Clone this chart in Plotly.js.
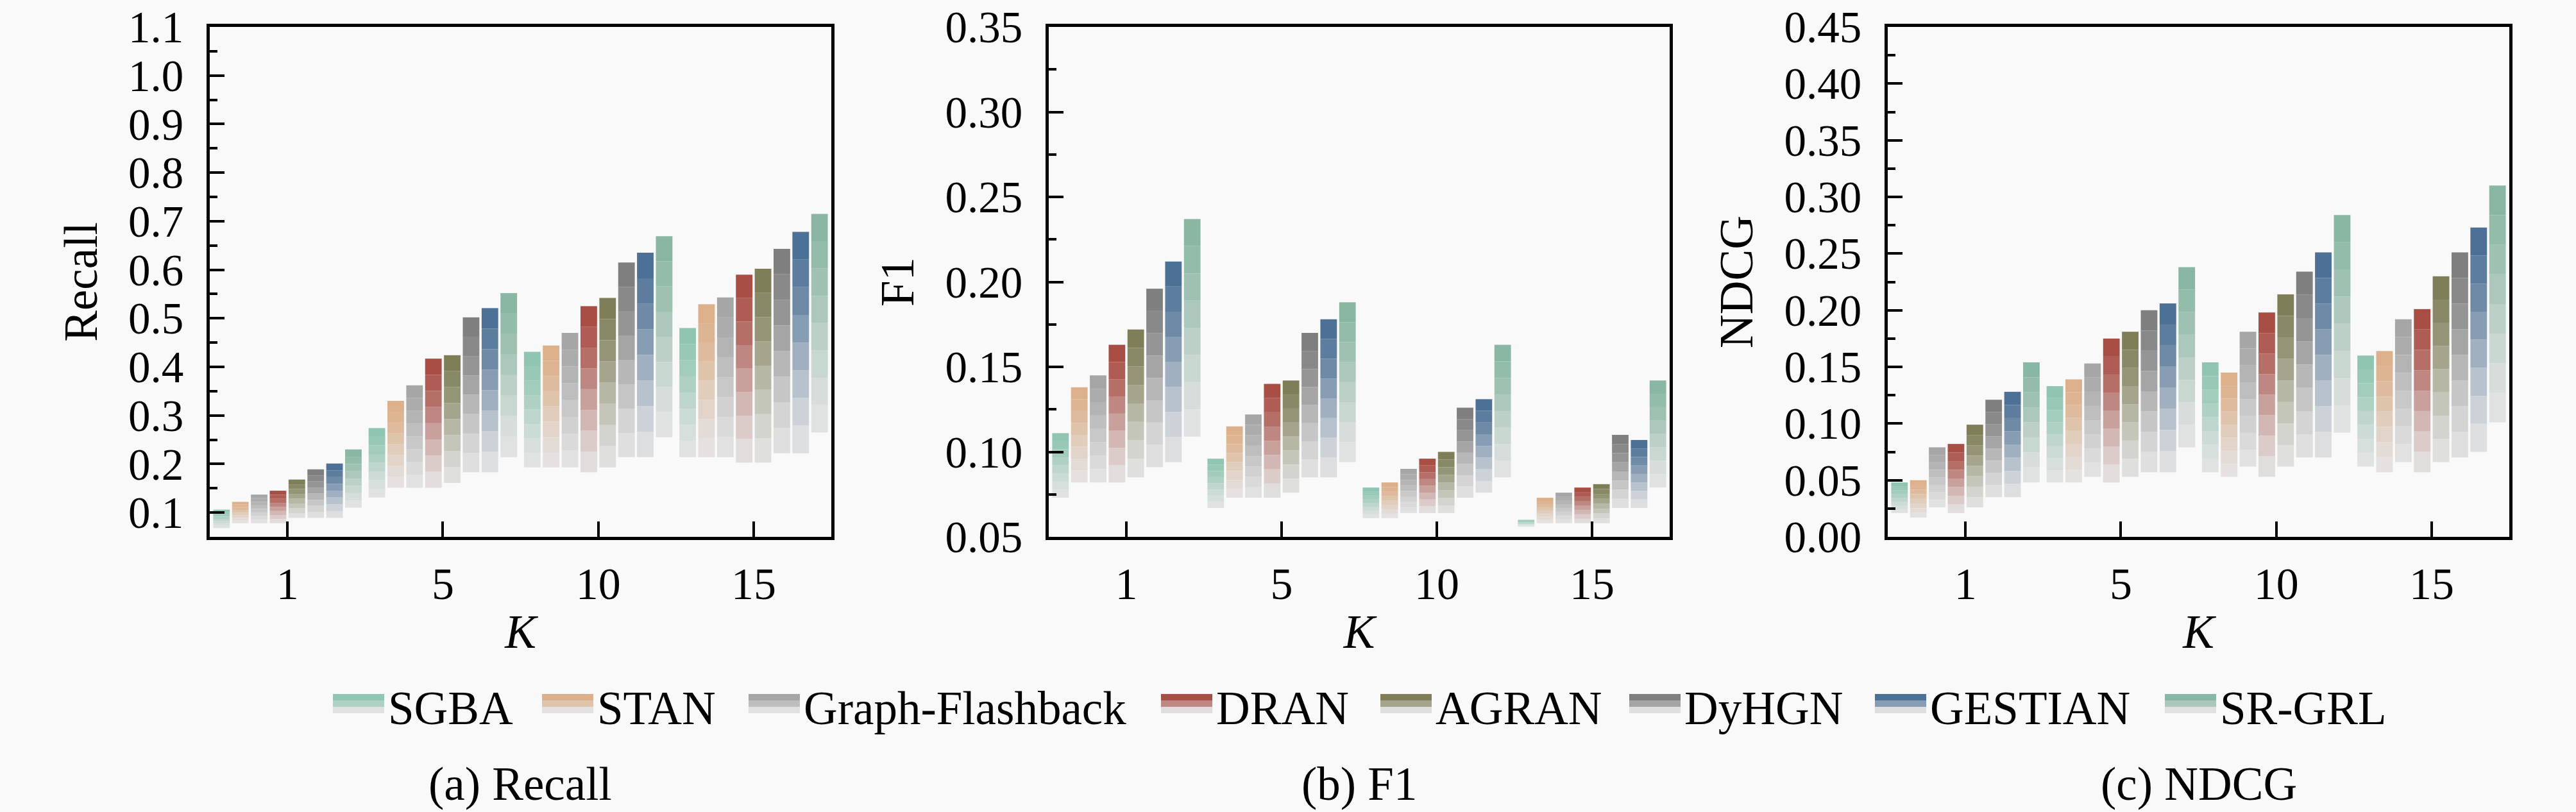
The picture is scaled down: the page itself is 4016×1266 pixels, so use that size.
<!DOCTYPE html>
<html>
<head>
<meta charset="utf-8">
<script src="https://cdn.plot.ly/plotly-3.0.1.min.js"></script>
<style>
  html, body { margin: 0; padding: 0; background: #f9f9f9; }
  #chart { width: 4016px; height: 1266px; }
</style>
</head>
<body>
<div id="chart"></div>
<script>
// Data

const kLabels = ["1", "5", "10", "15"];
const methods = ["SGBA", "STAN", "Graph-Flashback", "DRAN", "AGRAN", "DyHGN", "GESTIAN", "SR-GRL"];

// one row per method, one value per K (top of bar / faded low end of bar)
const recallTop = [
  [0.106, 0.274, 0.431, 0.480],
  [0.122, 0.330, 0.444, 0.529],
  [0.137, 0.362, 0.470, 0.543],
  [0.145, 0.417, 0.525, 0.590],
  [0.168, 0.424, 0.542, 0.602],
  [0.189, 0.502, 0.615, 0.643],
  [0.201, 0.521, 0.635, 0.678],
  [0.230, 0.552, 0.669, 0.715],
];
const recallLow = [
  [0.068, 0.131, 0.193, 0.214],
  [0.078, 0.151, 0.193, 0.214],
  [0.078, 0.151, 0.193, 0.214],
  [0.078, 0.151, 0.183, 0.203],
  [0.089, 0.161, 0.193, 0.203],
  [0.089, 0.183, 0.214, 0.222],
  [0.089, 0.183, 0.214, 0.222],
  [0.110, 0.214, 0.255, 0.265],
];

const f1Top = [
  [0.111, 0.096, 0.079, 0.060],
  [0.138, 0.115, 0.082, 0.073],
  [0.145, 0.122, 0.090, 0.076],
  [0.163, 0.140, 0.096, 0.079],
  [0.172, 0.142, 0.100, 0.081],
  [0.196, 0.170, 0.126, 0.110],
  [0.212, 0.178, 0.131, 0.107],
  [0.237, 0.188, 0.163, 0.142],
];
const f1Low = [
  [0.073, 0.067, 0.061, 0.056],
  [0.082, 0.073, 0.061, 0.058],
  [0.082, 0.073, 0.064, 0.058],
  [0.082, 0.073, 0.064, 0.058],
  [0.085, 0.076, 0.064, 0.058],
  [0.091, 0.085, 0.073, 0.067],
  [0.094, 0.085, 0.076, 0.067],
  [0.109, 0.094, 0.085, 0.079],
];

const ndcgTop = [
  [0.048, 0.133, 0.154, 0.160],
  [0.050, 0.139, 0.145, 0.164],
  [0.079, 0.153, 0.181, 0.192],
  [0.082, 0.175, 0.198, 0.201],
  [0.099, 0.181, 0.214, 0.230],
  [0.121, 0.200, 0.234, 0.251],
  [0.128, 0.206, 0.251, 0.273],
  [0.154, 0.238, 0.284, 0.310],
];
const ndcgLow = [
  [0.021, 0.048, 0.057, 0.062],
  [0.017, 0.048, 0.053, 0.057],
  [0.026, 0.053, 0.062, 0.066],
  [0.021, 0.048, 0.053, 0.057],
  [0.026, 0.053, 0.062, 0.066],
  [0.035, 0.057, 0.070, 0.070],
  [0.035, 0.057, 0.070, 0.075],
  [0.048, 0.079, 0.092, 0.101],
];

// Styles

const methodColors = ["#8fc5b1", "#dcb08a", "#a6a6a6", "#a94e44", "#7e7f58", "#7f7f7f", "#4d7196", "#8ab7a3"];
const fadeSteps = [0, 0.1, 0.22, 0.38, 0.55, 0.7, 0.84, 0.95]; // top -> bottom
const fadeTo = "#e4e4e4";
const FONT = "Liberation Serif, Times New Roman, serif";
const W = 4016;
const H = 1266;
const PLOT_TOP = 42; // px from top, leaves room for the top tick label
const PLOT_BOTTOM = 837;

// Functions

const hexToRgb = function (hex) {
  const n = parseInt(hex.slice(1), 16);
  return [(n >> 16) & 255, (n >> 8) & 255, n & 255];
};

const mix = function (a, b, t) {
  const ca = hexToRgb(a);
  const cb = hexToRgb(b);
  const c = ca.map((v, i) => Math.round(v + (cb[i] - v) * t));
  return `rgb(${c[0]},${c[1]},${c[2]})`;
};

const px = (x) => x / W;
const py = (y) => 1 - y / H;

// each bar = stack of segments fading from the method colour to light grey
const makeBarTraces = function (top, low, xa, ya) {
  const traces = [];
  const n = fadeSteps.length;
  methods.forEach((name, m) => {
    for (let s = 0; s < n; s++) {
      const k = n - 1 - s; // segment index from top
      const seg = top[m].map((t, i) => (t - low[m][i]) / n);
      traces.push({
        type: "bar",
        x: kLabels,
        y: seg,
        base: low[m].map((l, i) => l + seg[i] * s),
        name: name,
        offsetgroup: name,
        xaxis: xa,
        yaxis: ya,
        showlegend: false,
        hoverinfo: "skip",
        marker: { color: mix(methodColors[m], fadeTo, fadeSteps[k]), line: { width: 0 } },
      });
    }
  });
  return traces;
};

const xAxisLayout = function (domain, anchor) {
  return {
    domain: domain,
    anchor: anchor,
    type: "category",
    range: [-0.5, 3.5],
    showline: true,
    mirror: true,
    linecolor: "#000",
    linewidth: 5,
    ticks: "inside",
    ticklen: 24,
    tickwidth: 4,
    tickcolor: "#000",
    ticklabelstandoff: 8,
    tickfont: { family: FONT, size: 70, color: "#000" },
    showgrid: false,
    zeroline: false,
    title: { text: "<i>K</i>", font: { family: FONT, size: 73, color: "#000" }, standoff: 12 },
  };
};

const yAxisLayout = function (range, dtick, minorDtick, fmt, title, anchor) {
  return {
    domain: [py(PLOT_BOTTOM), py(PLOT_TOP)],
    anchor: anchor,
    range: range,
    dtick: dtick,
    tick0: 0,
    tickformat: fmt,
    showline: true,
    mirror: true,
    linecolor: "#000",
    linewidth: 5,
    ticks: "inside",
    ticklen: 23,
    tickwidth: 4,
    tickcolor: "#000",
    ticklabelstandoff: 22,
    ticklabeloverflow: "allow",
    minor: { ticks: "inside", ticklen: 12, tickwidth: 4, tickcolor: "#000", dtick: minorDtick, showgrid: false },
    tickfont: { family: FONT, size: 69, color: "#000" },
    showgrid: false,
    zeroline: false,
    title: { text: title, font: { family: FONT, size: 73, color: "#000" }, standoff: 26 },
  };
};

// Legend (drawn by hand so swatches can show the fade)

const legendX = [519, 845, 1167, 1810, 2152, 2540, 2923, 3375];
const buildLegend = function () {
  const shapes = [];
  const annotations = [];
  methods.forEach((name, m) => {
    const x0 = legendX[m];
    [0, 3, 7].forEach((step, j) => {
      shapes.push({
        type: "rect",
        xref: "paper",
        yref: "paper",
        x0: px(x0),
        x1: px(x0 + 80),
        y0: py(1082 + j * 10 + 10),
        y1: py(1082 + j * 10),
        fillcolor: mix(methodColors[m], fadeTo, fadeSteps[step]),
        line: { width: 0 },
      });
    });
    annotations.push({
      xref: "paper",
      yref: "paper",
      x: px(x0 + 84),
      y: py(1104),
      xanchor: "left",
      yanchor: "middle",
      text: name,
      showarrow: false,
      font: { family: FONT, size: 73, color: "#000" },
    });
  });
  return { shapes, annotations };
};

// Build

const data = [
  ...makeBarTraces(recallTop, recallLow, "x", "y"),
  ...makeBarTraces(f1Top, f1Low, "x2", "y2"),
  ...makeBarTraces(ndcgTop, ndcgLow, "x3", "y3"),
];

const legend = buildLegend();

const subTitles = [
  { text: "(a) Recall", x: 811 },
  { text: "(b) F1", x: 2119 },
  { text: "(c) NDCG", x: 3428 },
].map((s) => ({
  xref: "paper",
  yref: "paper",
  x: px(s.x),
  y: py(1222),
  xanchor: "center",
  yanchor: "middle",
  text: s.text,
  showarrow: false,
  font: { family: FONT, size: 73, color: "#000" },
}));

const layout = {
  width: W,
  height: H,
  paper_bgcolor: "#f9f9f9",
  plot_bgcolor: "#f9f9f9",
  margin: { l: 0, r: 0, t: 0, b: 0 },
  barmode: "group",
  bargap: 0.03,
  bargroupgap: 0.12,
  showlegend: false,
  xaxis: xAxisLayout([px(327), px(1296)], "y"),
  xaxis2: xAxisLayout([px(1635), px(2603)], "y2"),
  xaxis3: xAxisLayout([px(2943), px(3912)], "y3"),
  yaxis: yAxisLayout([0.05, 1.1000001], 0.1, 0.05, ".1f", "Recall", "x"),
  yaxis2: yAxisLayout([0.05, 0.3500001], 0.05, 0.025, ".2f", "F1", "x2"),
  yaxis3: yAxisLayout([0, 0.4500001], 0.05, 0.025, ".2f", "NDCG", "x3"),
  shapes: legend.shapes,
  annotations: [...legend.annotations, ...subTitles],
};

Plotly.newPlot("chart", data, layout, { displayModeBar: false, staticPlot: true });
</script>
</body>
</html>
